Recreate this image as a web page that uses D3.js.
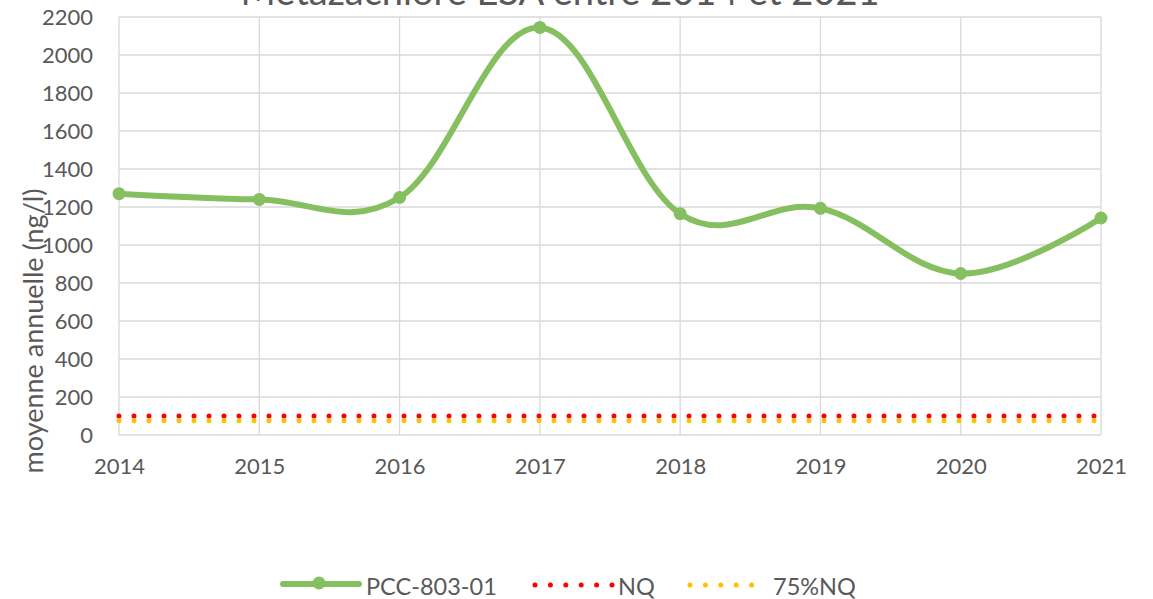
<!DOCTYPE html>
<html>
<head>
<meta charset="utf-8">
<script src="https://cdn.jsdelivr.net/npm/d3@7"></script>
<style>
  body { margin: 0; background: #fff; }
  text { font-family: Lato, "Liberation Sans", sans-serif; fill: #595959; }
</style>
</head>
<body>
<div id="chart"></div>
<script>
// Data
const years = [2014, 2015, 2016, 2017, 2018, 2019, 2020, 2021]
const pcc = [1270, 1240, 1250, 2145, 1165, 1193, 850, 1142]
const nq = 100
const nq75 = 75
const yTicks = [0, 200, 400, 600, 800, 1000, 1200, 1400, 1600, 1800, 2000, 2200]

// Canvas
const width = 1153,
  height = 599
const plotLeft = 119, plotRight = 1101, plotTop = 17, plotBottom = 435
const green = '#86bf5f'

let svg = d3.select('#chart')
  .append('svg')
  .attr('width', width)
  .attr('height', height)

let x = d3.scaleLinear().domain([2014, 2021]).range([plotLeft, plotRight])
let y = d3.scaleLinear().domain([0, 2200]).range([plotBottom, plotTop])

// Title (cut off at the top in the original)
svg.append('text')
  .attr('x', 560).attr('y', 5)
  .attr('text-anchor', 'middle')
  .style('font-size', '38px')
  .text('Métazachlore ESA entre 2014 et 2021')

// gridlines
svg.append('g')
  .selectAll('line')
  .data(yTicks)
  .enter().append('line')
  .attr('x1', plotLeft).attr('x2', plotRight)
  .attr('y1', d => y(d)).attr('y2', d => y(d))
  .attr('stroke', '#d9d9d9').attr('stroke-width', 1.3)

svg.append('g')
  .selectAll('line')
  .data(years)
  .enter().append('line')
  .attr('x1', d => x(d)).attr('x2', d => x(d))
  .attr('y1', plotTop).attr('y2', plotBottom)
  .attr('stroke', '#d9d9d9').attr('stroke-width', 1.3)

// axes
let yAxis = d3.axisLeft(y).tickValues(yTicks).tickFormat(d3.format('d')).tickSize(0).tickPadding(26)
let xAxis = d3.axisBottom(x).tickValues(years).tickFormat(d3.format('d')).tickSize(0).tickPadding(23)

let gy = svg.append('g').attr('transform', `translate(${plotLeft},0)`).call(yAxis)
let gx = svg.append('g').attr('transform', `translate(0,${plotBottom})`).call(xAxis)
gy.select('.domain').remove()
gx.select('.domain').remove()
svg.selectAll('.tick text').style('font-size', '22px').attr('fill', '#595959')

svg.append('text')
  .attr('transform', 'translate(43,331) rotate(-90)')
  .attr('text-anchor', 'middle')
  .style('font-size', '27px')
  .text('moyenne annuelle (ng/l)')

// threshold lines
let thresholds = [
  { name: 'NQ', value: nq, color: '#ff0000' },
  { name: '75%NQ', value: nq75, color: '#ffc000' }
]
svg.append('g')
  .selectAll('line')
  .data(thresholds)
  .enter().append('line')
  .attr('x1', plotLeft).attr('x2', plotRight)
  .attr('y1', d => y(d.value)).attr('y2', d => y(d.value))
  .attr('stroke', d => d.color)
  .attr('stroke-width', 5)
  .attr('stroke-linecap', 'round')
  .attr('stroke-dasharray', '0 15')

// main series
let line = d3.line()
  .x((d, i) => x(years[i]))
  .y(d => y(d))
  .curve(d3.curveCardinal.tension(-0.1))

svg.append('path')
  .datum(pcc)
  .attr('d', line)
  .attr('fill', 'none')
  .attr('stroke', green)
  .attr('stroke-width', 6)
  .attr('stroke-linecap', 'round')

svg.append('g')
  .selectAll('circle')
  .data(pcc)
  .enter().append('circle')
  .attr('cx', (d, i) => x(years[i]))
  .attr('cy', d => y(d))
  .attr('r', 6.5)
  .attr('fill', green)

// legend
let lg = svg.append('g')
lg.append('line').attr('x1', 283).attr('x2', 359).attr('y1', 584).attr('y2', 584)
  .attr('stroke', green).attr('stroke-width', 6).attr('stroke-linecap', 'round')
lg.append('circle').attr('cx', 319).attr('cy', 583).attr('r', 6.5).attr('fill', green)
lg.append('text').attr('x', 366).attr('y', 595).style('font-size', '23.5px').text('PCC-803-01')

thresholds.forEach((t, i) => {
  let x0 = 535 + i * 155
  lg.append('line').attr('x1', x0).attr('x2', x0 + 77).attr('y1', 585).attr('y2', 585)
    .attr('stroke', t.color).attr('stroke-width', 5)
    .attr('stroke-linecap', 'round').attr('stroke-dasharray', '0 15.4')
  lg.append('text').attr('x', x0 + 83).attr('y', 595).style('font-size', '23.5px').text(t.name)
})
</script>
</body>
</html>
